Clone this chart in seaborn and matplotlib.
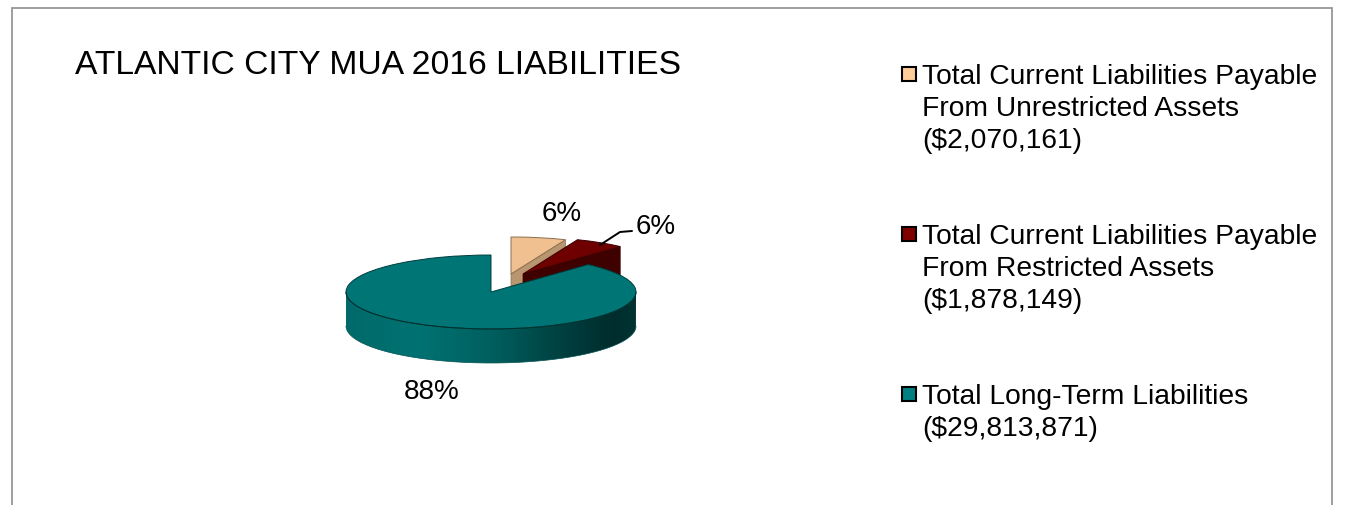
import numpy as np
import matplotlib
matplotlib.use("Agg")
import matplotlib.pyplot as plt
import seaborn as sns
from matplotlib.colors import LinearSegmentedColormap
from matplotlib.patches import PathPatch, Polygon, Rectangle
from matplotlib.path import Path

# Liabilities by class, in dollars
categories = [
    "Total Current Liabilities Payable\nFrom Unrestricted Assets",
    "Total Current Liabilities Payable\nFrom Restricted Assets",
    "Total Long-Term Liabilities",
]
amounts = [2070161, 1878149, 29813871]
chart_title = "ATLANTIC CITY MUA 2016 LIABILITIES"

top_colors = ["#f0c090", "#6e0000", "#007575"]
wall_colors = ["#b8966f", "#3f0000", "#005f5f"]
edge_colors = ["#8a6e50", "#3a0000", "#003c3c"]
swatch_colors = ["#ffcc99", "#800000", "#008080"]

sns.set_theme(style="white")
plt.rcParams["font.family"] = ["Liberation Sans", "DejaVu Sans"]

W, H = 1348, 506
CX, CY, RX, RY, DEPTH = 491, 293, 145, 37, 34
fig = plt.figure(figsize=(W / 100, H / 100), dpi=100, facecolor="white")

# Pie axes: one data unit equals the ellipse semi-axes, which flattens the disc
ax = fig.add_axes([0, 0, 1, 1])
wedges, _ = ax.pie(amounts, colors=top_colors, startangle=90, counterclock=False,
                   radius=1, frame=False)
ax.set_aspect("auto")
x_lim = ((0 - CX) / RX, (W - CX) / RX)
y_lim = ((CY - H) / RY, CY / RY)
depth = DEPTH / RY

# Exploded apex offsets for the two small slices, in pixels
offsets = [(20, -18), (32, -18), (0, 0)]
shares = np.asarray(amounts, dtype=float) / sum(amounts)
ends = 90 - 360 * np.cumsum(shares)

for i, (w, off) in enumerate(zip(wedges, offsets)):
    cx, cy = off[0] / RX, -off[1] / RY
    w.set_center((cx, cy))
    w.set_edgecolor(edge_colors[i])
    w.set_linewidth(0.7)
    w.set_zorder(2 * i + 2)
    if i < 2:
        # Cut face along the clockwise edge of the exploded slice
        a = np.deg2rad(ends[i])
        ex, ey = cx + np.cos(a), cy + np.sin(a)
        ax.add_patch(Polygon([(cx, cy), (ex, ey), (ex, ey - depth), (cx, cy - depth)],
                             closed=True, facecolor=wall_colors[i],
                             edgecolor=edge_colors[i], linewidth=0.5, zorder=2 * i + 1))

# Front rim of the large slice, shaded from left to right
t = np.linspace(np.pi, 2 * np.pi, 200)
rim_xy = np.vstack([np.column_stack([np.cos(t), np.sin(t)]),
                    np.column_stack([np.cos(t[::-1]), np.sin(t[::-1]) - depth])])
rim_path = Path(rim_xy, closed=False)
rim_cmap = LinearSegmentedColormap.from_list(
    "rim", [(0, "#006a6a"), (0.25, "#007272"), (0.5, "#005f5f"),
            (0.75, "#003f3f"), (0.92, "#002c2c"), (1, "#003434")])
img = ax.imshow(np.linspace(0, 1, 256)[None, :], cmap=rim_cmap, aspect="auto",
                extent=(-1, 1, -1 - depth, 0), zorder=5)
img.set_clip_path(PathPatch(rim_path, transform=ax.transData))
ax.plot(np.cos(t), np.sin(t), color="#003030", lw=0.7, zorder=7)
ax.plot(np.cos(t), np.sin(t) - depth, color="#005050", lw=0.5, zorder=5)
ax.set_xlim(x_lim)
ax.set_ylim(y_lim)
ax.axis("off")

# Overlay in pixel units for the frame, title, value labels and legend
ov = fig.add_axes([0, 0, 1, 1])
ov.set_xlim(0, W)
ov.set_ylim(H, 0)
ov.axis("off")
ov.patch.set_alpha(0)

frame_color = "#969696"
ov.plot([12, 12, 1332, 1332], [H, 8.5, 8.5, H], color=frame_color, lw=1.3,
        solid_joinstyle="miter")

ov.text(75, 65, chart_title, fontsize=24.2, color="black", va="center", ha="left")

pct_labels = [f"{s:.0%}" for s in shares]
pct_xy = [(562, 214), (656, 227), (431.5, 392)]
for label, (x, y) in zip(pct_labels, pct_xy):
    ov.text(x, y, label, fontsize=20, color="black", ha="center", va="center")
ov.plot([600, 620, 632], [246, 233, 232], color="black", lw=1.4)

legend_y = [75, 235, 395]
for name, amount, y, c in zip(categories, amounts, legend_y, swatch_colors):
    ov.add_patch(Rectangle((902, y - 7), 14, 14, facecolor=c, edgecolor="black", lw=1.5))
    ov.text(922, y - 11, f"{name}\n(${amount:,})", fontsize=20.3, color="black",
            ha="left", va="top", linespacing=1.29)

fig.savefig("out.png", dpi=100, facecolor="white")
